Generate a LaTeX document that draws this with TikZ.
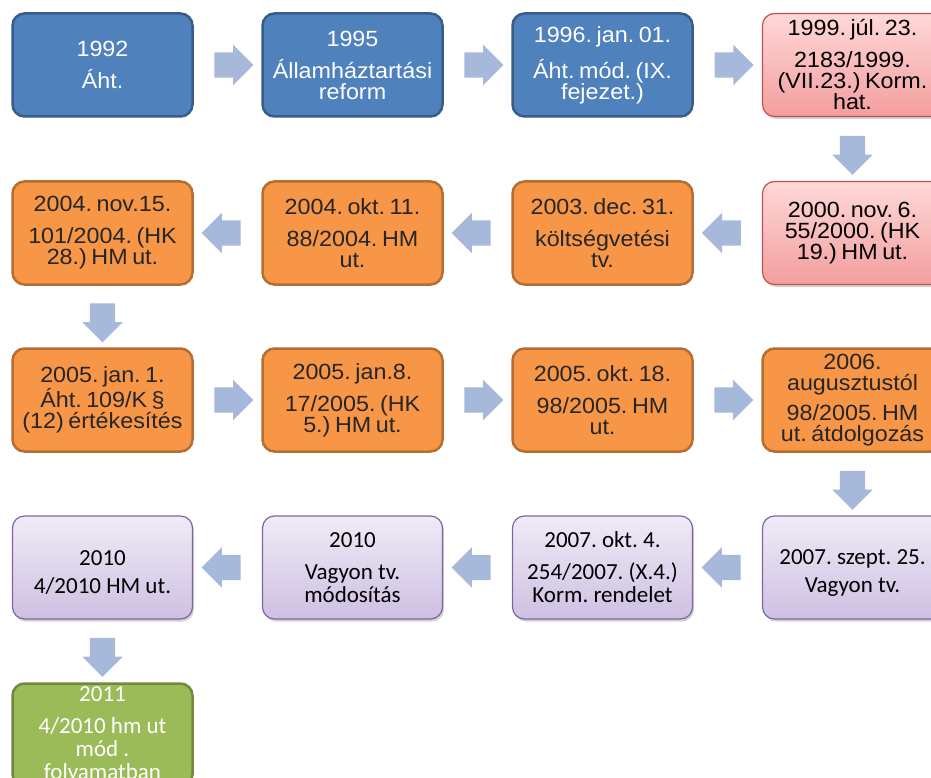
\documentclass[tikz,border=0pt]{standalone}
\usepackage{fontspec}
\usetikzlibrary{shapes.arrows,shadows,calc}
\newfontfamily\arialf{Liberation Sans}[FakeStretch=1.06,WordSpace=0.7]
\newfontfamily\calibrif{Carlito}
\frenchspacing
\definecolor{arrowc}{RGB}{167,185,219}
\definecolor{bluef}{RGB}{79,129,189}
\definecolor{blued}{RGB}{56,93,138}
\definecolor{pinkt}{RGB}{255,216,216}
\definecolor{pinkb}{RGB}{243,158,158}
\definecolor{pinkd}{RGB}{192,80,77}
\definecolor{orangef}{RGB}{247,150,70}
\definecolor{oranged}{RGB}{182,109,49}
\definecolor{purplet}{RGB}{240,235,247}
\definecolor{purpleb}{RGB}{206,192,226}
\definecolor{purpled}{RGB}{128,100,162}
\definecolor{greenf}{RGB}{155,187,89}
\definecolor{greend}{RGB}{113,137,63}
\definecolor{darktext}{RGB}{38,38,38}
\begin{document}
\begin{tikzpicture}[x=1pt,y=-1pt,
  box/.style={rounded corners=12pt,minimum width=180pt,minimum height=103pt,inner sep=0pt,align=center},
  bluebox/.style={box,fill=bluef,draw=blued,line width=2.5pt,text=white,font=\arialf\fontsize{22}{21}\selectfont},
  pinkbox/.style={box,top color=pinkt,bottom color=pinkb,draw=pinkd,line width=1.2pt,text=black,
    drop shadow={opacity=0.35,shadow xshift=1.5pt,shadow yshift=-2.5pt},font=\arialf\fontsize{22}{21}\selectfont},
  orangebox/.style={box,fill=orangef,draw=oranged,line width=2.5pt,text=darktext,font=\arialf\fontsize{22}{21}\selectfont},
  purplebox/.style={box,top color=purplet,bottom color=purpleb,draw=purpled,line width=1.2pt,text=black,
    drop shadow={opacity=0.35,shadow xshift=1.5pt,shadow yshift=-2.5pt},font=\calibrif\fontsize{23}{23}\selectfont},
  greenbox/.style={box,fill=greenf,draw=greend,line width=2.5pt,text=white,font=\calibrif\fontsize{23}{23}\selectfont},
  rarrow/.style={single arrow,fill=arrowc,draw=none,minimum height=39pt,inner xsep=0pt,inner ysep=12.5pt,single arrow head extend=7.5pt},
  larrow/.style={rarrow,rotate=180},
  darrow/.style={rarrow,rotate=-90}]
\clip (0,0) rectangle (931,778);
\node[bluebox] (b1) at (102.5,65) {1992\\[11pt]Áht.};
\node[bluebox] (b2) at (352.5,65) {1995\\[11pt]Államháztartási\\reform};
\node[bluebox] (b3) at (602.5,65) {1996. jan. 01.\\[11pt]Áht. mód. (IX.\\fejezet.)};
\node[pinkbox] (b4) at (852.5,65) {1999. júl. 23.\\[11pt]2183/1999.\\(VII.23.) Korm.\\hat.};
\node[pinkbox] (b5) at (852.5,233) {2000. nov. 6.\\55/2000. (HK\\19.) HM ut.};
\node[orangebox] (b6) at (602.5,233) {2003. dec. 31.\\[11pt]költségvetési\\tv.};
\node[orangebox] (b7) at (352.5,233) {2004. okt. 11.\\[11pt]88/2004. HM\\ut.};
\node[orangebox] (b8) at (102.5,233) {2004. nov.15.\\[11pt]101/2004. (HK\\28.) HM ut.};
\node[orangebox] (b9) at (102.5,400) {2005. jan. 1.\\Áht. 109/K §\\(12) értékesítés};
\node[orangebox] (b10) at (352.5,400) {2005. jan.8.\\[11pt]17/2005. (HK\\5.) HM ut.};
\node[orangebox] (b11) at (602.5,400) {2005. okt. 18.\\[11pt]98/2005. HM\\ut.};
\node[orangebox] (b12) at (852.5,400) {2006.\\augusztustól\\[9pt]98/2005. HM\\ut. átdolgozás};
\node[purplebox] (b13) at (852.5,567.5) {\strut\\[-14pt]2007. szept. 25.\\[5pt]Vagyon tv.};
\node[purplebox] (b14) at (602.5,567.5) {2007. okt. 4.\\[9pt]254/2007. (X.4.)\\Korm. rendelet};
\node[purplebox] (b15) at (352.5,567.5) {2010\\[9pt]Vagyon tv.\\módosítás};
\node[purplebox] (b16) at (102.5,567.5) {\strut\\[-14pt]2010\\[5pt]4/2010 HM ut.};
\node[greenbox] (b17) at (102.5,735) {2011\\[9pt]4/2010 hm ut\\mód .\\folyamatban};
\node[rarrow] (a1) at ($(b1.east)!.5!(b2.west)$) {};
\node[rarrow] (a2) at ($(b2.east)!.5!(b3.west)$) {};
\node[rarrow] (a3) at ($(b3.east)!.5!(b4.west)$) {};
\node[darrow] (a4) at ($(b4.south)!.5!(b5.north)$) {};
\node[larrow] (a5) at ($(b5.west)!.5!(b6.east)$) {};
\node[larrow] (a6) at ($(b6.west)!.5!(b7.east)$) {};
\node[larrow] (a7) at ($(b7.west)!.5!(b8.east)$) {};
\node[darrow] (a8) at ($(b8.south)!.5!(b9.north)$) {};
\node[rarrow] (a9) at ($(b9.east)!.5!(b10.west)$) {};
\node[rarrow] (a10) at ($(b10.east)!.5!(b11.west)$) {};
\node[rarrow] (a11) at ($(b11.east)!.5!(b12.west)$) {};
\node[darrow] (a12) at ($(b12.south)!.5!(b13.north)$) {};
\node[larrow] (a13) at ($(b13.west)!.5!(b14.east)$) {};
\node[larrow] (a14) at ($(b14.west)!.5!(b15.east)$) {};
\node[larrow] (a15) at ($(b15.west)!.5!(b16.east)$) {};
\node[darrow] (a16) at ($(b16.south)!.5!(b17.north)$) {};
\end{tikzpicture}
\end{document}
